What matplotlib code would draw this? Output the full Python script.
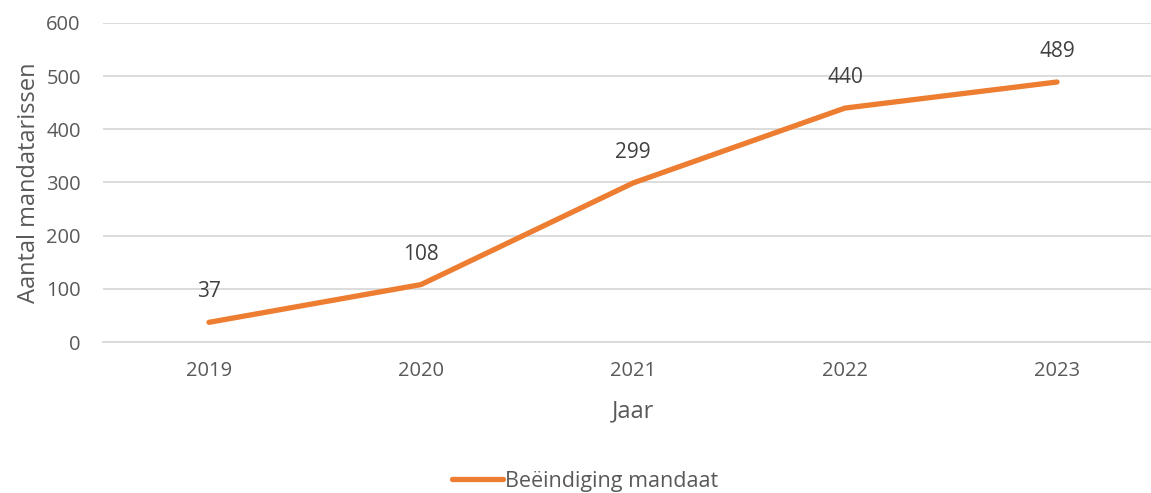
import matplotlib
matplotlib.use("Agg")
import matplotlib.pyplot as plt

years = ['2019', '2020', '2021', '2022', '2023']
counts = [37, 108, 299, 440, 489]
series_name = 'Beëindiging mandaat'

plt.rcParams['font.family'] = ['Open Sans', 'DejaVu Sans']

fig = plt.figure(figsize=(11.51, 4.93), dpi=100)
ax = fig.add_axes([103 / 1151, 151 / 493, 1060 / 1151, 319 / 493])

x = range(len(years))
ax.plot(x, counts, color='#ED7D31', linewidth=3.8, solid_capstyle='round',
        label=series_name)
for xi, v in zip(x, counts):
    ax.annotate(str(v), (xi, v), xytext=(0, 22), textcoords='offset points',
                ha='center', va='center', fontsize=15, color='#404040')

ax.set_xlim(-0.5, len(years) - 0.5)
ax.set_ylim(0, 600)
ax.set_yticks(range(0, 601, 100))
ax.set_xticks(list(x))
ax.set_xticklabels(years)
ax.tick_params(length=0, labelsize=14.5, labelcolor='#595959')
ax.tick_params(axis='x', pad=14)
ax.tick_params(axis='y', pad=16)
ax.grid(axis='y', color='#D9D9D9', linewidth=1.3)
ax.set_axisbelow(True)
for side in ['top', 'right', 'left']:
    ax.spines[side].set_visible(False)
ax.spines['bottom'].set_color('#D9D9D9')
ax.spines['bottom'].set_linewidth(1.3)

ax.set_xlabel('Jaar', fontsize=17, color='#595959', labelpad=13)
ax.set_ylabel('Aantal mandatarissen', fontsize=17, color='#595959', labelpad=4)

fig.legend(loc='center', bbox_to_anchor=(585 / 1151, 1 - 481 / 493),
           frameon=False, fontsize=15.5, handlelength=2.4, handletextpad=0.1,
           labelcolor='#595959')

fig.savefig('out.png', dpi=100)
